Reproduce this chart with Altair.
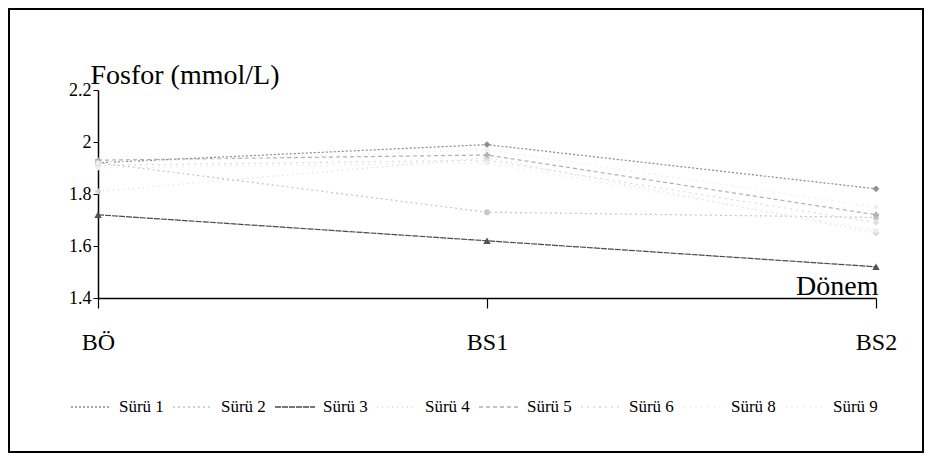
import altair as alt
import pandas as pd

periods = ["BÖ", "BS1", "BS2"]
herds = ["Sürü 1", "Sürü 2", "Sürü 3", "Sürü 4", "Sürü 5", "Sürü 6", "Sürü 8", "Sürü 9"]
suru1 = [1.92, 1.99, 1.82]
suru2 = [1.92, 1.73, 1.71]
suru3 = [1.72, 1.62, 1.52]
suru4 = [1.81, 1.94, 1.65]
suru5 = [1.93, 1.95, 1.72]
suru6 = [1.91, 1.93, 1.69]
suru8 = [1.92, 1.97, 1.75]
suru9 = [1.90, 1.92, 1.66]
y_ticks = [1.4, 1.6, 1.8, 2.0, 2.2]

series = [suru1, suru2, suru3, suru4, suru5, suru6, suru8, suru9]
rows = []
for name, vals in zip(herds, series):
    for p, v in zip(periods, vals):
        rows.append({"Dönem": p, "Sürü": name, "Fosfor": v})
df = pd.DataFrame(rows)

colors = ["#8a8a8a", "#c4c4c4", "#4a4a4a", "#d6d6d6", "#b0b0b0", "#dcdcdc", "#efefef", "#efefef"]
dashes = [[2, 2], [2, 3], [6, 1], [1, 4], [4, 3], [2, 4], [2, 4], [2, 4]]
shapes = ["diamond", "circle", "triangle-up", "cross", "cross", "cross", "circle", "circle"]
msizes = [45, 35, 55, 35, 35, 30, 25, 25]

W, H = 778, 208
SERIF = "Liberation Serif"

x_enc = alt.X("Dönem:N", sort=periods,
              scale=alt.Scale(type="point", padding=0, domain=periods),
              axis=alt.Axis(title="Dönem", labelAngle=0, labelFontSize=24,
                            labelFont=SERIF, labelColor="black", labelPadding=22,
                            tickSize=10, tickColor="black", domainColor="black",
                            domainWidth=1.5, tickWidth=1.2,
                            titleFont=SERIF, titleFontSize=28, titleFontWeight="normal",
                            titleColor="black", titleX=780, titleY=-4,
                            titleAlign="right", titleBaseline="alphabetic", grid=False))
y_enc = alt.Y("Fosfor:Q",
              scale=alt.Scale(domain=[1.4, 2.2], nice=False, zero=False),
              axis=alt.Axis(title="Fosfor (mmol/L)", values=y_ticks,
                            labelExpr="format(datum.value, '.2~f')",
                            labelFont=SERIF, labelFontSize=18, labelColor="black",
                            tickSize=5, tickColor="black", domainColor="black", domainWidth=1.5,
                            labelPadding=2, grid=False,
                            titleFont=SERIF, titleFontSize=28, titleFontWeight="normal",
                            titleColor="black", titleAngle=0, titleX=-8, titleY=-7,
                            titleAlign="left", titleBaseline="alphabetic"))

lines = alt.Chart(df).mark_line(strokeWidth=1.2).encode(
    x=x_enc, y=y_enc,
    color=alt.Color("Sürü:N", scale=alt.Scale(domain=herds, range=colors),
                    legend=alt.Legend(title=None, orient="none", legendX=-28, legendY=296,
                                      direction="horizontal", columns=8,
                                      symbolType="stroke", symbolSize=1600,
                                      symbolStrokeWidth=1.5,
                                      labelFont=SERIF, labelFontSize=17, labelColor="black",
                                      labelOffset=7, columnPadding=6)),
    strokeDash=alt.StrokeDash("Sürü:N", scale=alt.Scale(domain=herds, range=dashes), legend=None),
)

point_layers = []
for name, col, shp, sz in zip(herds, colors, shapes, msizes):
    point_layers.append(
        alt.Chart(df).transform_filter(alt.datum["Sürü"] == name).mark_point(
            shape=shp, filled=True, color=col, size=sz, opacity=0.95
        ).encode(x=x_enc, y=y_enc)
    )

frame = alt.Chart(pd.DataFrame({"f": [0]})).mark_rect(
    fillOpacity=0, stroke="black", strokeWidth=2
).encode(x=alt.value(-89), x2=alt.value(825), y=alt.value(-81), y2=alt.value(362))

chart = alt.layer(frame, lines, *point_layers).properties(
    width=W, height=H,
    autosize=alt.AutoSizeParams(type="none"),
    padding={"left": 90, "top": 82, "right": 48, "bottom": 155},
    background="white",
).configure_view(stroke=None)

chart.save("out.html", embed_options={"renderer": "svg", "actions": False})
